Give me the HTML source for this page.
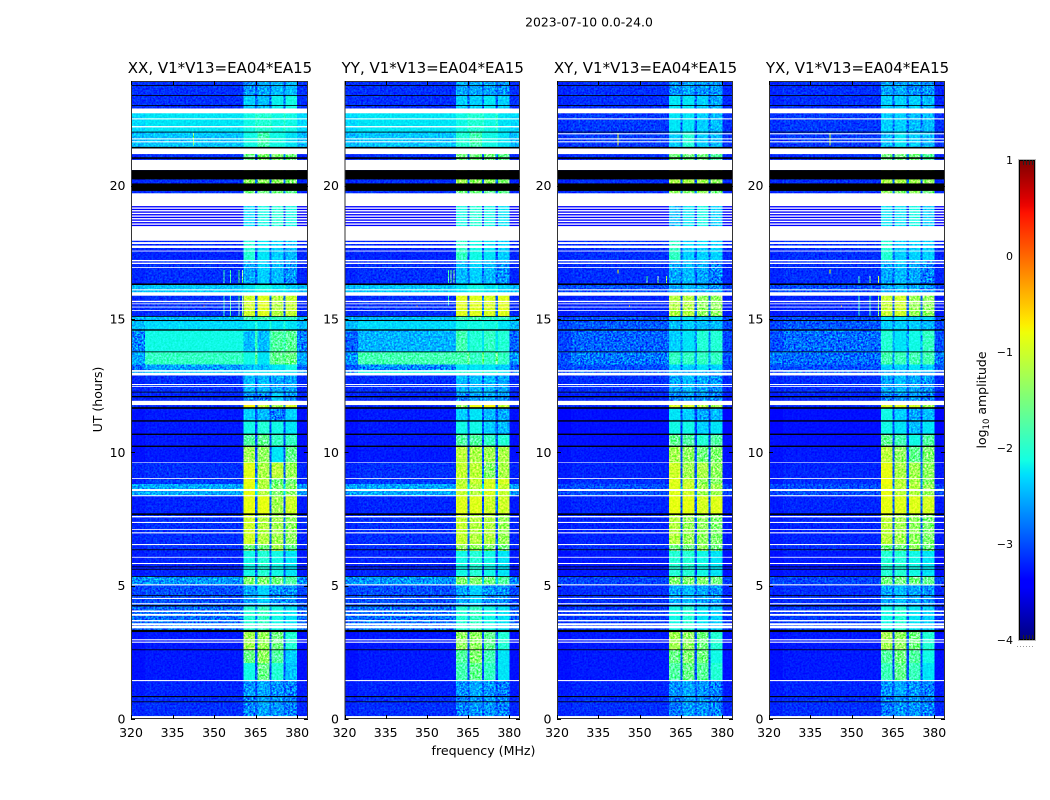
<!DOCTYPE html>
<html>
<head>
<meta charset="utf-8">
<title>2023-07-10 0.0-24.0</title>
<style>
html,body{margin:0;padding:0;background:#fff;}
#chart{display:block;width:1050px;height:800px;}
text{font-family:"DejaVu Sans","Liberation Sans",sans-serif;fill:#000;}
</style>
</head>
<body>
<svg id="chart" xmlns="http://www.w3.org/2000/svg" width="1050" height="800" viewBox="0 0 1050 800">
  <defs>
    <filter id="grain" x="0" y="0" width="100%" height="100%" color-interpolation-filters="sRGB">
      <feTurbulence type="fractalNoise" baseFrequency="0.52" numOctaves="2" seed="4"/>
      <feColorMatrix type="matrix" values="1.9 0 0 0 -0.45  1.9 0 0 0 -0.45  1.9 0 0 0 -0.45  0 0 0 0 1"/>
    </filter>
    <linearGradient id="cbar-gradient" x1="0" y1="1" x2="0" y2="0"></linearGradient>
  </defs>
  <text x="589" y="26.5" font-size="12.4" text-anchor="middle">2023-07-10 0.0-24.0</text>
  <text x="483.5" y="755" font-size="12.6" text-anchor="middle">frequency (MHz)</text>
  <text transform="translate(102,399.5) rotate(-90)" font-size="12.5" text-anchor="middle">UT (hours)</text>
  <g id="panels"></g>
  <g id="colorbar"></g>
  <text transform="translate(986,400) rotate(-90)" font-size="12.5" text-anchor="middle">log<tspan font-size="8.5" dy="3">10</tspan><tspan dy="-3"> amplitude</tspan></text>
</svg>
<script>
// ---- chart data (log10 amplitude) ----
const panelTitles = ["XX, V1*V13=EA04*EA15", "YY, V1*V13=EA04*EA15", "XY, V1*V13=EA04*EA15", "YX, V1*V13=EA04*EA15"];
const xTicks = [320, 335, 350, 365, 380];
const yTicks = [0, 5, 10, 15, 20];
const colorTicks = [1, 0, -1, -2, -3, -4];
const colorTickLabels = ["1", "0", "\u22121", "\u22122", "\u22123", "\u22124"];

// frequency blocks: edge, mid, band1, gap, band2, gap, band3, gap, band4, edge
const freqEdges = [320, 325, 360.6, 364.8, 365.6, 370, 370.8, 375, 375.8, 380, 383.9];
// time segments (UT hours, top to bottom)
const utEdges = [23.92,23.38,22.89,22.02,21.45,21.18,20.96,20.08,19.71,17.93,17.2,16.3,15.87,15.1,14.94,14.58,13.77,13.3,13.05,12.88,12.2,11.77,11.66,11.18,10.68,10.22,9.62,9.02,8.81,8.37,7.68,6.54,6.3,5.35,5.03,4.25,3.3,2.6,2.1,1.44,0.85,0];

// one row per time segment: [edge, mid, band1, band2, band3, band4]
const valuesXX = [
[-3.15,-3.15,-2.65,-2.55,-2.45,-2.45],[-3.15,-3.15,-2.35,-2.45,-2.2,-2.15],[-2.3,-2.25,-2.15,-2.05,-2.15,-2.15],[-2.45,-2.4,-2.15,-1.85,-2.15,-2.25],
[-2.75,-2.7,-2.35,-2.25,-2.35,-2.45],[-3.2,-3.15,-1.6,-1.45,-1.45,-1.55],[-3.2,-3.15,-1.35,-1.35,-1.35,-1.45],[-3.2,-3.15,-1.55,-1.55,-1.55,-1.65],
[-3.4,-3.4,-2.3,-2.15,-2.05,-2.15],[-3.2,-3.2,-2.05,-2.25,-2.35,-2.45],[-3.2,-3.15,-2.55,-2.35,-2.45,-2.65],[-2.45,-2.4,-2.25,-2.15,-2.25,-2.35],
[-3.2,-3.15,-1.0,-0.9,-1.15,-1.05],[-2.5,-2.45,-1.85,-1.85,-1.95,-1.95],[-2.45,-2.3,-2.25,-2.25,-2.25,-2.25],[-2.75,-2.15,-2.45,-2.45,-1.75,-1.7],
[-2.55,-1.95,-2.15,-2.25,-1.65,-1.6],[-2.85,-2.6,-2.45,-2.45,-2.25,-2.15],[-2.6,-2.4,-2.25,-2.25,-2.25,-2.25],[-3.2,-3.15,-2.45,-2.45,-2.55,-2.55],
[-3.2,-3.2,-2.75,-2.75,-2.35,-2.65],[-3.2,-3.2,-0.75,-1.05,-1.25,-0.95],[-3.3,-3.25,-2.35,-2.45,-2.75,-2.35],[-3.3,-3.25,-2.15,-2.05,-2.15,-2.25],
[-3.3,-3.25,-1.75,-1.65,-1.95,-1.95],[-3.3,-3.25,-1.25,-1.35,-2.25,-1.65],[-3.2,-3.15,-0.9,-1.2,-1.1,-1.3],[-3.2,-3.1,-0.85,-1.15,-1.55,-1.5],
[-2.6,-2.55,-0.85,-1.15,-1.45,-1.4],[-3.25,-3.2,-0.85,-0.85,-1.25,-1.0],[-3.2,-3.15,-1.0,-1.15,-1.25,-1.35],[-3.2,-3.15,-1.55,-1.55,-1.25,-1.65],
[-3.25,-3.2,-2.15,-2.05,-2.15,-2.25],[-2.7,-2.65,-1.45,-1.45,-1.55,-1.75],[-3.05,-3.0,-2.55,-2.35,-2.65,-2.65],[-2.9,-2.85,-2.05,-1.95,-2.15,-2.25],
[-3.3,-3.25,-1.25,-1.3,-1.55,-2.05],[-3.3,-3.25,-1.6,-1.35,-1.75,-2.35],[-3.3,-3.25,-2.15,-1.6,-2.05,-2.4],[-3.25,-3.2,-2.65,-2.55,-2.65,-2.75],
[-3.2,-3.15,-2.75,-2.55,-2.65,-2.75]
];
const valuesYY = [
[-3.15,-3.15,-2.55,-2.55,-2.55,-2.65],[-3.15,-3.15,-2.35,-2.35,-2.25,-2.35],[-2.3,-2.25,-2.15,-2.05,-2.15,-2.25],[-2.45,-2.4,-2.05,-1.85,-2.15,-2.25],
[-2.75,-2.7,-2.25,-2.25,-2.35,-2.45],[-3.2,-3.15,-1.55,-1.55,-1.55,-1.65],[-3.2,-3.15,-1.25,-1.35,-1.35,-1.45],[-3.2,-3.15,-1.55,-1.55,-1.65,-1.65],
[-3.4,-3.4,-2.15,-2.05,-2.15,-2.25],[-3.2,-3.2,-1.95,-2.15,-2.25,-2.35],[-3.2,-3.15,-2.45,-2.35,-2.45,-2.65],[-2.45,-2.4,-2.25,-2.15,-2.25,-2.35],
[-3.2,-3.15,-0.9,-0.9,-0.95,-0.9],[-2.5,-2.45,-1.85,-1.85,-1.95,-1.95],[-2.45,-2.3,-2.15,-2.15,-2.15,-2.25],[-2.9,-2.5,-1.85,-2.05,-1.95,-2.05],
[-2.65,-1.85,-1.85,-1.95,-1.95,-1.95],[-2.95,-2.7,-2.25,-2.25,-2.25,-2.35],[-2.75,-2.15,-2.05,-2.15,-2.15,-2.25],[-3.2,-3.15,-2.45,-2.45,-2.45,-2.55],
[-3.2,-3.2,-2.75,-2.65,-2.55,-2.65],[-3.2,-3.2,-1.35,-0.8,-0.75,-1.05],[-3.3,-3.25,-2.35,-2.25,-2.45,-2.55],[-3.3,-3.25,-2.15,-2.15,-2.35,-2.45],
[-3.3,-3.25,-1.75,-1.75,-1.95,-2.05],[-3.3,-3.25,-1.1,-1.2,-1.25,-1.2],[-3.2,-3.15,-1.05,-1.1,-1.4,-1.2],[-3.2,-3.1,-1.1,-1.05,-0.95,-0.95],
[-2.6,-2.55,-1.05,-1.15,-0.95,-1.05],[-3.25,-3.2,-0.9,-0.9,-1.0,-1.0],[-3.2,-3.15,-1.05,-1.15,-1.15,-1.3],[-3.2,-3.15,-1.35,-1.35,-1.45,-1.55],
[-3.25,-3.2,-2.15,-2.05,-2.15,-2.25],[-2.7,-2.65,-1.45,-1.45,-1.55,-1.75],[-3.05,-3.0,-2.55,-2.35,-2.65,-2.65],[-2.9,-2.85,-2.05,-1.95,-2.15,-2.25],
[-3.3,-3.25,-1.35,-1.35,-1.65,-2.05],[-3.3,-3.25,-1.75,-1.45,-1.85,-2.25],[-3.3,-3.25,-1.85,-1.65,-1.95,-2.25],[-3.25,-3.2,-2.65,-2.55,-2.65,-2.75],
[-3.2,-3.15,-2.75,-2.65,-2.65,-2.75]
];
const valuesXY = [
[-3.2,-3.15,-2.65,-2.55,-2.65,-2.65],[-3.2,-3.15,-2.25,-2.25,-2.35,-2.55],[-3.15,-3.1,-2.25,-2.25,-2.35,-2.45],[-3.15,-3.1,-2.35,-2.05,-2.35,-2.45],
[-3.2,-3.15,-2.55,-2.55,-2.65,-2.65],[-3.2,-3.15,-1.55,-1.55,-1.55,-1.75],[-3.2,-3.15,-1.2,-1.2,-1.25,-1.35],[-3.2,-3.15,-1.35,-1.45,-1.35,-1.55],
[-3.4,-3.4,-2.45,-2.25,-2.15,-2.35],[-3.2,-3.15,-1.95,-2.35,-2.35,-2.35],[-3.2,-3.15,-2.55,-2.45,-2.55,-2.75],[-3.05,-3.0,-2.55,-2.45,-2.55,-2.65],
[-3.25,-3.2,-1.15,-1.15,-1.35,-1.35],[-3.05,-3.0,-2.25,-2.25,-2.35,-2.35],[-3.05,-2.95,-2.45,-2.35,-2.45,-2.45],[-3.05,-2.9,-2.35,-2.25,-2.05,-2.05],
[-3.0,-2.8,-1.95,-1.95,-1.95,-1.95],[-3.05,-3.0,-2.35,-2.35,-2.25,-2.35],[-3.05,-2.9,-2.55,-2.55,-2.55,-2.55],[-3.2,-3.15,-2.55,-2.45,-2.55,-2.65],
[-3.25,-3.2,-2.75,-2.65,-2.65,-2.75],[-3.2,-3.2,-0.95,-0.95,-1.15,-1.25],[-3.35,-3.3,-2.25,-2.35,-2.55,-2.45],[-3.35,-3.3,-2.15,-2.15,-2.35,-2.25],
[-3.3,-3.3,-1.65,-1.75,-2.05,-1.75],[-3.3,-3.25,-1.25,-1.35,-1.55,-1.45],[-3.25,-3.2,-1.0,-1.25,-1.2,-1.35],[-3.25,-3.15,-0.9,-1.05,-1.35,-1.4],
[-3.05,-3.0,-0.9,-1.0,-1.25,-1.25],[-3.25,-3.2,-0.85,-0.85,-0.95,-0.9],[-3.25,-3.2,-1.15,-1.3,-1.35,-1.45],[-3.2,-3.15,-1.55,-1.55,-1.35,-1.55],
[-3.3,-3.25,-2.05,-2.05,-2.15,-2.25],[-3.05,-3.05,-1.45,-1.45,-1.45,-1.55],[-3.2,-3.15,-2.55,-2.45,-2.55,-2.65],[-3.15,-3.1,-2.15,-2.05,-2.25,-2.35],
[-3.3,-3.25,-1.25,-1.35,-1.55,-2.05],[-3.3,-3.25,-1.6,-1.45,-1.55,-2.15],[-3.3,-3.25,-1.75,-1.6,-1.7,-2.05],[-3.25,-3.2,-2.65,-2.55,-2.65,-2.75],
[-3.2,-3.15,-2.8,-2.6,-2.65,-2.75]
];
const valuesYX = [
[-3.2,-3.15,-2.55,-2.55,-2.65,-2.65],[-3.2,-3.15,-2.35,-2.35,-2.35,-2.45],[-3.15,-3.1,-2.35,-2.35,-2.45,-2.45],[-3.15,-3.1,-2.45,-2.25,-2.35,-2.45],
[-3.2,-3.15,-2.55,-2.55,-2.65,-2.65],[-3.2,-3.15,-1.55,-1.55,-1.55,-1.75],[-3.2,-3.15,-1.2,-1.2,-1.25,-1.35],[-3.2,-3.15,-1.35,-1.45,-1.35,-1.55],
[-3.4,-3.4,-2.25,-2.25,-2.15,-2.35],[-3.2,-3.15,-2.05,-2.35,-2.35,-2.35],[-3.2,-3.15,-2.55,-2.45,-2.55,-2.75],[-3.05,-3.0,-2.55,-2.45,-2.55,-2.65],
[-3.25,-3.2,-1.05,-1.0,-1.3,-1.35],[-3.05,-3.0,-2.25,-2.25,-2.35,-2.35],[-3.05,-2.95,-2.35,-2.35,-2.35,-2.45],[-3.0,-2.85,-2.05,-2.25,-2.15,-1.95],
[-2.8,-2.85,-1.85,-1.9,-1.85,-1.85],[-3.0,-3.0,-2.35,-2.35,-2.25,-2.35],[-3.05,-2.9,-2.55,-2.55,-2.55,-2.55],[-3.2,-3.15,-2.55,-2.45,-2.55,-2.65],
[-3.25,-3.2,-2.75,-2.65,-2.65,-2.75],[-3.2,-3.2,-0.9,-0.9,-0.95,-1.25],[-3.35,-3.3,-2.15,-2.35,-2.55,-2.45],[-3.35,-3.3,-2.15,-2.25,-2.45,-2.25],
[-3.3,-3.3,-1.65,-1.85,-2.15,-1.75],[-3.3,-3.25,-1.1,-1.35,-1.65,-1.45],[-3.25,-3.2,-0.85,-1.2,-1.25,-1.35],[-3.25,-3.15,-0.8,-1.1,-1.2,-1.4],
[-3.05,-3.0,-0.85,-1.1,-1.15,-1.3],[-3.25,-3.2,-0.85,-0.9,-0.9,-0.95],[-3.25,-3.2,-1.1,-1.25,-1.35,-1.45],[-3.2,-3.15,-1.55,-1.55,-1.35,-1.55],
[-3.3,-3.25,-2.05,-2.05,-2.15,-2.25],[-3.05,-3.05,-1.55,-1.55,-1.55,-1.65],[-3.2,-3.15,-2.55,-2.45,-2.55,-2.65],[-3.15,-3.1,-2.15,-2.05,-2.25,-2.35],
[-3.3,-3.25,-1.25,-1.35,-1.55,-2.05],[-3.3,-3.25,-1.75,-1.55,-1.75,-2.15],[-3.3,-3.25,-1.9,-1.65,-1.9,-2.25],[-3.25,-3.2,-2.65,-2.55,-2.65,-2.75],
[-3.2,-3.15,-2.8,-2.65,-2.65,-2.75]
];

// flagged (no data) rows shared by every panel, [ut high, ut low]
const flagWhite = [[22.89,22.71],[22.52,22.48],[21.77,21.73],[21.66,21.62],[21.39,21.18],[20.96,20.58],[19.71,19.23],
[19.18,19.13],[19.08,19.03],[18.98,18.93],[18.88,18.83],[18.78,18.73],[18.68,18.63],[18.58,18.53],[18.48,17.93],[17.88,17.81],[17.75,17.66],[17.56,17.53],[17.21,17.16],[17.11,17.06],[16.94,16.91],
[16.11,16.07],[16.0,15.87],[15.68,15.63],[15.58,15.55],[15.46,15.43],[15.33,15.3],[13.08,13.02],[12.98,12.88],[12.56,12.52],[12.48,12.45],[11.93,11.77],
[9.63,9.61],[9.03,9.0],[8.62,8.55],[8.39,8.35],[7.61,7.56],[7.39,7.35],[7.12,7.09],[7.0,6.96],[6.56,6.52],[6.08,6.05],[5.85,5.81],[5.05,5.01],[4.54,4.5],[4.34,4.3],
[4.07,4.01],[3.94,3.87],[3.71,3.66],[3.59,3.51],[3.49,3.4],[2.99,2.95],[2.9,2.86],[1.46,1.42],[0.11,0]];
// flagged rows that appear only in the parallel hands or only in the cross hands
const flagWhiteParallel = [[22.23,22.18]];
const flagWhiteCross = [[21.96,21.92]];
// zero amplitude rows shared by every panel, [ut high, ut low]
const flagBlack = [[23.77,23.74],[23.39,23.37],[23.02,22.99],[22.02,21.99],[21.45,21.39],[21.06,21.0],[20.58,20.23],[20.08,19.8],
[16.33,16.27],[15.11,15.08],[14.96,14.92],[14.61,14.56],[13.78,13.76],[12.27,12.25],[12.11,12.06],[11.69,11.63],[11.2,11.15],[10.7,10.65],[10.25,10.2],
[7.71,7.65],[6.36,6.34],[5.72,5.7],[5.63,5.61],[5.36,5.33],[4.64,4.61],[4.27,4.22],[3.34,3.26],[2.61,2.59],[0.86,0.82],[0.66,0.64]];

// narrow interference: [MHz, ut high, ut low, log10 amplitude]
const rfiXX = [[353.4,16.83,16.34,-1.9],[355.8,16.83,16.34,-1.8],[358.8,16.83,16.34,-1.6],[360,16.83,16.34,-1.5],[353.4,15.87,15.11,-1.9],[355.8,15.87,15.11,-1.8],[358.8,15.87,15.11,-1.6],[360,15.87,15.11,-1.5],[346.2,15.5,15.46,0.1],[342.4,21.97,21.5,-1.4]];
const rfiYY = [[357.6,16.83,16.34,-1.8],[358.6,16.83,16.34,-1.6],[359.6,16.83,16.34,-1.5],[357.6,15.87,15.5,-1.9],[346.2,15.5,15.46,-0.1]];
const rfiXY = [[352.5,16.6,16.34,-1.7],[356.5,16.6,16.34,-1.5],[359.5,16.6,16.34,-1.3],[342,21.97,21.5,-0.9],[342,16.85,16.7,-0.8],[346.2,15.5,15.46,-0.6]];
const rfiYX = [[352.5,16.6,16.34,-1.8],[356.5,16.6,16.34,-1.6],[359.5,16.6,16.34,-1.1],[352.5,15.87,15.11,-1.9],[356.5,15.87,15.11,-1.8],[359.5,15.87,15.11,-1.4],[342,21.97,21.5,-0.9],[342,16.85,16.7,-0.8],[346.2,15.5,15.46,-0.2]];

// ---- layout (not data) ----
const panelBoxes = [[131,308],[344.5,520],[557,733],[769,945]];
const panelValues = [valuesXX, valuesYY, valuesXY, valuesYX];
const panelRfi = [rfiXX, rfiYY, rfiXY, rfiYX];
const panelExtraWhite = [flagWhiteParallel, flagWhiteParallel, flagWhiteCross, flagWhiteCross];
const plotTop = 81, plotBottom = 719;
const freqMin = 320, freqMax = 383.9, utMin = 0, utMax = 23.92;
const colorMin = -4, colorMax = 1;
const gapLift = 0.25;
const SVGNS = "http://www.w3.org/2000/svg";

function ramp(t, pts){
  for (let i = 1; i < pts.length; i++){
    if (t <= pts[i][0]){
      const a = pts[i-1], b = pts[i];
      return a[1] + (b[1]-a[1]) * (t-a[0]) / (b[0]-a[0]);
    }
  }
  return pts[pts.length-1][1];
}
function jet(t){
  t = Math.max(0, Math.min(1, t));
  const r = ramp(t, [[0,0],[0.35,0],[0.66,1],[0.89,1],[1,0.5]]);
  const g = ramp(t, [[0,0],[0.125,0],[0.375,1],[0.64,1],[0.91,0],[1,0]]);
  const b = ramp(t, [[0,0.5],[0.11,1],[0.34,1],[0.65,0],[1,0]]);
  return "rgb(" + Math.round(r*255) + "," + Math.round(g*255) + "," + Math.round(b*255) + ")";
}
function colorOf(v){ return jet((v - colorMin) / (colorMax - colorMin)); }
function xScale(box, f){ return box[0] + (f - freqMin) / (freqMax - freqMin) * (box[1] - box[0]); }
function yScale(u){ return plotBottom - (u - utMin) / (utMax - utMin) * (plotBottom - plotTop); }
function make(tag, attrs){
  const el = document.createElementNS(SVGNS, tag);
  for (const k in attrs) el.setAttribute(k, attrs[k]);
  return el;
}

const panelsRoot = document.getElementById("panels");
panelTitles.forEach(function(title, p){
  const box = panelBoxes[p];
  const rows = panelValues[p];
  const group = make("g", {style: "isolation:isolate"});
  
  
  panelsRoot.appendChild(group);

  const heat = make("g", {"shape-rendering": "crispEdges"});
  
  
  group.appendChild(heat);

  rows.forEach(function(row, s){
    const gap = row[1] + gapLift;
    const columns = [row[0], row[1], row[2], gap, row[3], gap, row[4], gap, row[5], row[0]];
    const y0 = yScale(utEdges[s]), y1 = yScale(utEdges[s+1]);
    columns.forEach(function(v, c){
      const x0 = xScale(box, freqEdges[c]), x1 = xScale(box, freqEdges[c+1]);
      const cell = make("rect", {x: x0, y: y0, width: x1 - x0, height: y1 - y0, fill: colorOf(v)});
      
      
      heat.appendChild(cell);
    });
  });

  panelRfi[p].forEach(function(r){
    const x0 = xScale(box, r[0]);
    const y0 = yScale(r[1]), y1 = yScale(r[2]);
    const mark = make("rect", {x: x0, y: y0, width: 1, height: Math.max(1, y1 - y0), fill: colorOf(r[3])});
    
    
    heat.appendChild(mark);
  });

  const grain = make("rect", {
    x: box[0], y: plotTop, width: box[1] - box[0], height: plotBottom - plotTop,
    filter: "url(#grain)", opacity: "1", style: "mix-blend-mode:overlay"
  });
  
  
  group.appendChild(grain);

  flagWhite.concat(panelExtraWhite[p]).forEach(function(f){
    const y0 = yScale(f[0]), y1 = yScale(f[1]);
    const band = make("rect", {x: box[0], y: y0, width: box[1] - box[0], height: y1 - y0, fill: "#fff"});
    
    
    group.appendChild(band);
  });
  flagBlack.forEach(function(f){
    const y0 = yScale(f[0]), y1 = yScale(f[1]);
    const band = make("rect", {x: box[0], y: y0, width: box[1] - box[0], height: Math.max(0.8, y1 - y0), fill: "#000"});
    
    
    group.appendChild(band);
  });

  const frame = make("rect", {
    x: box[0] + 0.5, y: plotTop + 0.5, width: box[1] - box[0] - 1, height: plotBottom - plotTop - 1,
    fill: "none", stroke: "#333", "stroke-width": 1
  });
  
  
  group.appendChild(frame);

  xTicks.forEach(function(t){
    const x = Math.round(xScale(box, t)) + 0.5;
    const tickB = make("line", {x1: x, x2: x, y1: plotBottom, y2: plotBottom - 4, stroke: "#000"});
    
    
    group.appendChild(tickB);
    const tickT = make("line", {x1: x, x2: x, y1: plotTop, y2: plotTop + 4, stroke: "#000"});
    
    
    group.appendChild(tickT);
    const label = make("text", {x: xScale(box, t), y: 737, "font-size": 12.5, "text-anchor": "middle"});
    
    
    label.textContent = String(t);
    group.appendChild(label);
  });

  yTicks.forEach(function(t){
    const y = Math.round(yScale(t)) + 0.5;
    const tickL = make("line", {x1: box[0], x2: box[0] + 4, y1: y, y2: y, stroke: "#000"});
    
    
    group.appendChild(tickL);
    const tickR = make("line", {x1: box[1], x2: box[1] - 4, y1: y, y2: y, stroke: "#000"});
    
    
    group.appendChild(tickR);
    const label = make("text", {x: box[0] - 5.5, y: yScale(t) + 4.5, "font-size": 12.5, "text-anchor": "end"});
    
    
    label.textContent = String(t);
    group.appendChild(label);
  });

  const heading = make("text", {x: (box[0] + box[1]) / 2 + 0.5, y: 73, "font-size": 15, "text-anchor": "middle"});
  
  
  heading.textContent = title;
  group.appendChild(heading);
});

// ---- colour bar ----
const cbX = 1019, cbW = 16, cbTop = 160, cbBottom = 640;
const gradient = document.getElementById("cbar-gradient");
for (let i = 0; i <= 64; i++){
  gradient.appendChild(make("stop", {offset: i / 64, "stop-color": jet(i / 64)}));
}
function cbY(v){ return cbBottom - (v - colorMin) / (colorMax - colorMin) * (cbBottom - cbTop); }
const cbRoot = document.getElementById("colorbar");
const cbOuter = make("rect", {x: cbX - 0.5, y: cbTop - 0.5, width: cbW + 1, height: cbBottom - cbTop + 1, fill: "none", stroke: "#bbb"});


cbRoot.appendChild(cbOuter);
const cbBar = make("rect", {x: cbX + 0.5, y: cbTop + 0.5, width: cbW - 1, height: cbBottom - cbTop - 1, fill: "url(#cbar-gradient)", stroke: "#000"});


cbRoot.appendChild(cbBar);
colorTicks.forEach(function(v, i){
  const label = make("text", {x: cbX - 6, y: cbY(v) + 4, "font-size": 11, "text-anchor": "end"});
  
  
  label.textContent = colorTickLabels[i];
  cbRoot.appendChild(label);
});
[cbX + 4, cbX + 7, cbX + 10, cbX + 13].forEach(function(x){
  const top = make("line", {x1: x + 0.5, x2: x + 0.5, y1: cbTop, y2: cbTop + 5, stroke: "#222"});
  
  
  cbRoot.appendChild(top);
  const bottom = make("line", {x1: x + 0.5, x2: x + 0.5, y1: cbBottom - 5, y2: cbBottom, stroke: "#222"});
  
  
  cbRoot.appendChild(bottom);
});
[1017, 1020, 1023, 1026, 1029, 1032].forEach(function(x){
  const dot = make("rect", {x: x, y: 646, width: 1, height: 1, fill: "#999"});
  
  
  cbRoot.appendChild(dot);
});
</script>
</body>
</html>
